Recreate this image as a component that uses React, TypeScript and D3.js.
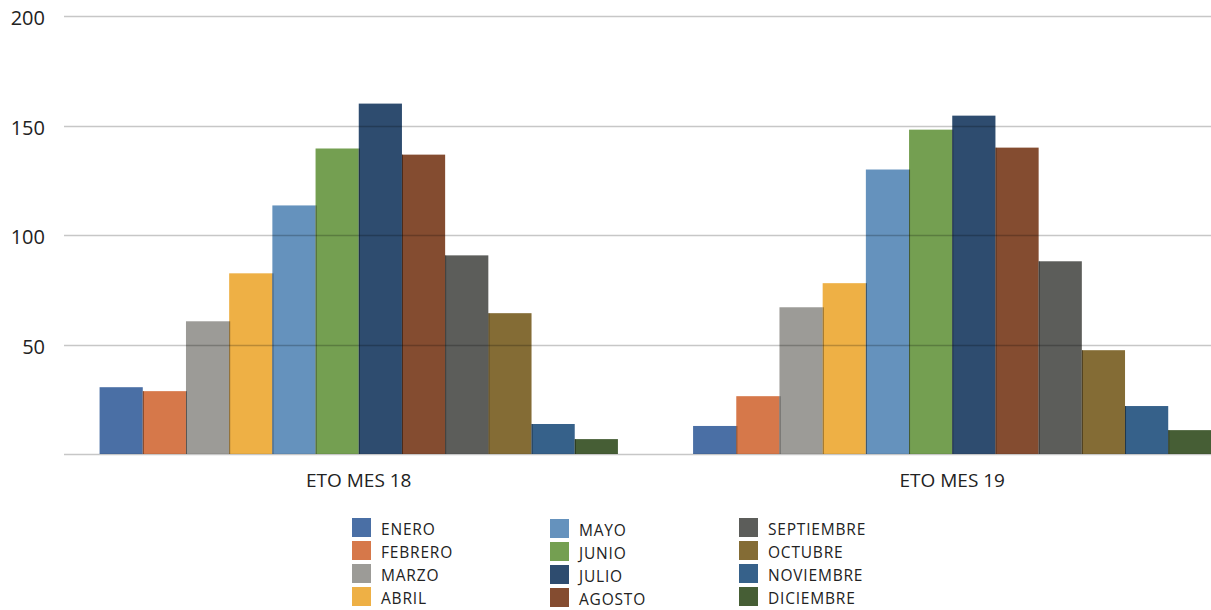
import React from "react";
import * as d3 from "d3";

// Categories (x groups) and months (series)
const categories = ["ETO MES 18", "ETO MES 19"];
const months = [
  "ENERO", "FEBRERO", "MARZO", "ABRIL", "MAYO", "JUNIO",
  "JULIO", "AGOSTO", "SEPTIEMBRE", "OCTUBRE", "NOVIEMBRE", "DICIEMBRE",
];
const monthColors = [
  "#4a6fa5", "#d6784a", "#9c9b97", "#eeb045", "#6592bd", "#749f51",
  "#2e4c6f", "#844c30", "#5c5d5a", "#846c35", "#36618a", "#465e35",
];

// ETO values per month
const etoMes18 = [30.5, 28.7, 60.6, 82.5, 113.5, 139.5, 160, 136.7, 90.7, 64.3, 13.7, 6.8];
const etoMes19 = [12.8, 26.4, 67, 78, 129.9, 148.1, 154.5, 139.9, 88, 47.4, 21.9, 10.9];
const seriesByCategory = [etoMes18, etoMes19];

const yTicks = [0, 50, 100, 150, 200];

const W = 1211;
const H = 610;

export default function App() {
  const y = d3.scaleLinear().domain([0, 200]).range([454, 16]);
  const x0 = d3.scaleBand<string>().domain(categories).range([62, 1249]);
  const x1 = d3
    .scaleBand<string>()
    .domain(months)
    .range([0, x0.bandwidth()])
    .paddingInner(0)
    .paddingOuter(0.87);

  const font = "'Open Sans', sans-serif";

  const legendCols = [
    { sx: 352, tx: 381, dy: 0 },
    { sx: 550, tx: 579, dy: 1 },
    { sx: 739, tx: 768, dy: 0 },
  ];

  return (
    <svg
      width={W}
      height={H}
      style={{ position: "absolute", left: 0, top: 0, background: "#fff" }}
    >
      {/* bars */}
      {categories.map((c, ci) => (
        <g key={c} transform={`translate(${x0(c)},0)`}>
          {months.map((m, mi) => {
            const v = seriesByCategory[ci][mi];
            const bx = x1(m)!;
            const bw = x1.bandwidth();
            const top = y(v);
            const bottom = y(0);
            return (
              <g key={m}>
                <rect x={bx} y={top} width={bw} height={bottom - top} fill={monthColors[mi]} />
                {mi > 0 && (
                  <line
                    x1={bx + 0.5}
                    x2={bx + 0.5}
                    y1={Math.max(top, y(seriesByCategory[ci][mi - 1]))}
                    y2={bottom}
                    stroke="rgba(0,0,0,0.45)"
                    strokeWidth={1}
                  />
                )}
              </g>
            );
          })}
        </g>
      ))}

      {/* gridlines drawn over the bars */}
      {yTicks.map((t) => (
        <g key={t}>
          <line
            x1={64}
            x2={W}
            y1={Math.round(y(t)) + 0.5}
            y2={Math.round(y(t)) + 0.5}
            stroke="rgba(0,0,0,0.22)"
            strokeWidth={1.3}
          />
          <text
            x={45}
            y={y(t) + 9}
            textAnchor="end"
            fontFamily={font}
            fontSize={20}
            fill="#222"
          >
            {t === 0 ? "" : t}
          </text>
        </g>
      ))}

      {/* category labels */}
      {categories.map((c) => (
        <text
          key={c}
          x={x0(c)! + x0.bandwidth() / 2}
          y={487}
          textAnchor="middle"
          fontFamily={font}
          fontSize={19}
          fill="#222"
        >
          {c}
        </text>
      ))}

      {/* legend */}
      {months.map((m, i) => {
        const col = legendCols[Math.floor(i / 4)];
        const row = i % 4;
        const top = 518 + row * 23 + col.dy;
        return (
          <g key={m}>
            <rect x={col.sx} y={top} width={19} height={19} fill={monthColors[i]} />
            <text
              x={col.tx}
              y={top + 17}
              fontFamily={font}
              fontSize={15.5}
              letterSpacing={0.8}
              fill="#222"
            >
              {m}
            </text>
          </g>
        );
      })}
    </svg>
  );
}
